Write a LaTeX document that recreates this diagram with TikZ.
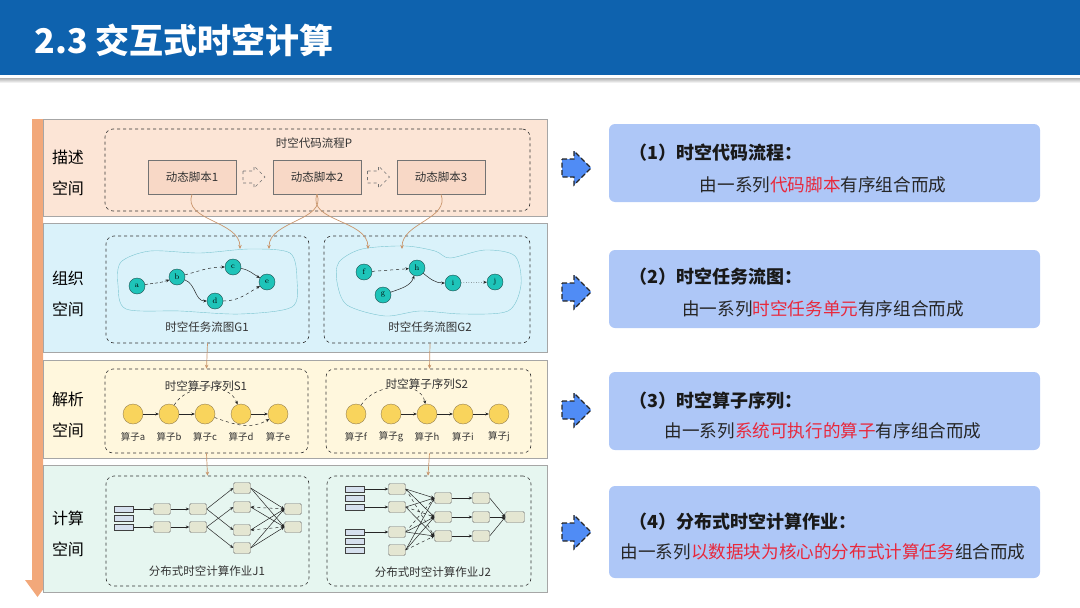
\documentclass[tikz,border=0pt]{standalone}
\usepackage{fontspec}
\newfontfamily\cjk{Noto Sans CJK SC}
\usetikzlibrary{arrows.meta}

\definecolor{bandblue}{RGB}{14,98,174}
\definecolor{descfill}{RGB}{252,229,214}
\definecolor{orgfill}{RGB}{218,242,250}
\definecolor{parsefill}{RGB}{255,247,221}
\definecolor{compfill}{RGB}{230,246,240}
\definecolor{barorange}{RGB}{242,168,122}
\definecolor{scriptfill}{RGB}{248,216,198}
\definecolor{tealnode}{RGB}{30,196,185}
\definecolor{tealline}{RGB}{30,80,80}
\definecolor{opyellow}{RGB}{249,212,92}
\definecolor{opline}{RGB}{150,128,80}
\definecolor{jobfill}{RGB}{228,230,210}
\definecolor{slabfill}{RGB}{214,224,238}
\definecolor{notefill}{RGB}{174,199,247}
\definecolor{arrowblue}{RGB}{80,140,245}
\definecolor{hlred}{RGB}{232,40,60}
\definecolor{linktan}{RGB}{201,149,107}
\definecolor{blobline}{RGB}{123,197,208}

\newcommand\hot[1]{\textcolor{hlred}{#1}}

\begin{document}
\begin{tikzpicture}[x=1pt, y=-1pt, font=\cjk,
    panel/.style={rectangle, draw=black!35, minimum width=504pt, inner sep=0},
    group/.style={rectangle, draw=black!80, dashed, line width=0.6pt, rounded corners=8pt, inner sep=0},
    side/.style={align=center, font=\cjk\fontsize{16}{31}\selectfont},
    small/.style={text=black!80, font=\cjk\fontsize{11.5}{13}\selectfont},
    script/.style={rectangle, draw=black!55, fill=scriptfill, minimum width=88pt, minimum height=34pt, small},
    hollow/.style={draw=black!55, dashed, line width=0.6pt},
    task/.style={circle, fill=tealnode, draw=tealline, minimum size=16pt, inner sep=0, font=\rmfamily\fontsize{8}{9}\selectfont},
    op/.style={circle, fill=opyellow, draw=opline, minimum size=20pt, inner sep=0},
    oplabel/.style={text=black!80, font=\cjk\fontsize{9.5}{11}\selectfont},
    job/.style={rectangle, rounded corners=1.5pt, draw=black!55, fill=jobfill, minimum width=17pt, minimum height=11pt, inner sep=0},
    slab/.style={rectangle, draw=black!75, fill=slabfill, minimum width=19pt, minimum height=6pt, inner sep=0},
    flow/.style={-{Stealth[length=3.5pt,width=3pt]}, black!85, line width=0.5pt},
    feed/.style={-{Stealth[length=4pt,width=3.5pt]}, linktan, line width=0.7pt},
    note/.style={rectangle, rounded corners=6pt, fill=notefill, minimum width=431pt, inner sep=0},
    pointer/.style={fill=arrowblue, draw=black!85, dash pattern=on 5pt off 2.5pt, line width=1.2pt},
    notetitle/.style={anchor=west, text=black!90, font=\cjk\bfseries\fontsize{18}{20}\selectfont},
    notebody/.style={text=black!85, font=\cjk\fontsize{17.6}{20}\selectfont}
]

    \useasboundingbox (0,0) rectangle (1080,608);

    % Header
    \fill[bandblue] (0,0) rectangle (1080,75);
    \shade[top color=black!30, bottom color=white] (0,78) rectangle (1080,83);
    \node[anchor=west, text=white, font=\cjk\bfseries\fontsize{34}{38}\selectfont] (title) at (31,40) {2.3 交互式时空计算};

    % Spaces
    \fill[barorange] (32,119) -- (43,119) -- (43,580) -- (50,580) -- (37.5,597) -- (25,580) -- (32,580) -- cycle;

    \node[panel, fill=descfill, minimum height=97pt] (P1) at (295,167.5) {};
    \node[panel, fill=orgfill, minimum height=129pt] (P2) at (295,287.5) {};
    \node[panel, fill=parsefill, minimum height=98pt] (P3) at (295,409) {};
    \node[panel, fill=compfill, minimum height=127pt] (P4) at (295,528.5) {};

    \foreach \n/\y/\t in {1/172.5/描述, 2/293.5/组织, 3/414.5/解析, 4/533.5/计算}
        \node[side] (L\n) at (68,\y) {\t\\空间};

    % Code flow P
    \node[group, minimum width=425pt, minimum height=82pt] (Pg) at (317.5,170) {};
    \node[small] (Pt) at (314,143) {时空代码流程P};

    \foreach \i/\x in {1/192, 2/317, 3/441}
        \node[script] (sc\i) at (\x,177) {动态脚本\i};

    \foreach \x in {243,367.5}
        \draw[hollow] (\x,171) -- ({\x+11},171) -- ({\x+11},166) -- ({\x+22},177) -- ({\x+11},188) -- ({\x+11},183) -- (\x,183) -- cycle;

    % Task flow graphs G1 G2
    \node[group, minimum width=203pt, minimum height=107pt] (G1) at (207.5,289.5) {};
    \node[group, minimum width=206pt, minimum height=107pt] (G2) at (427,289.5) {};
    \node[small] (G1t) at (207,327) {时空任务流图G1};
    \node[small] (G2t) at (430,327) {时空任务流图G2};

    \draw[blobline] plot[smooth cycle] coordinates {(121,262) (150,251) (200,253) (250,249) (290,253) (297,280) (292,307) (240,314) (180,311) (126,309) (118,285)};
    \draw[blobline] plot[smooth cycle] coordinates {(339,262) (362,249) (405,246) (435,251) (450,258) (485,250) (515,256) (521,285) (508,311) (462,314) (420,311) (385,316) (347,305) (337,282)};

    \foreach \n/\x/\y in {a/137/286, b/177/277, c/233/267, d/215/301, e/267/282, f/364/272, g/383/295, h/417/268, i/453/283, j/495/282}
        \node[task] (\n) at (\x,\y) {\n};

    \draw[flow, densely dashed] (a) to[out=10,in=200] (b);
    \draw[flow, dashed] (b) to[out=15,in=180] (c);
    \draw[flow] (b) to[out=-20,in=180] (d);
    \draw[flow] (c) to[out=-10,in=150] (e);
    \draw[flow, dashed] (d) to[out=0,in=-150] (e);
    \draw[flow, dashed] (f) -- (h);
    \draw[flow] (g) to[out=20,in=-110] (h);
    \draw[flow] (h) to[out=-40,in=180] (i);
    \draw[flow, dotted] (i) -- (j);

    \coordinate (g1in1) at (240,249);
    \coordinate (g1in2) at (269,249);
    \coordinate (g2in1) at (368,249);
    \coordinate (g2in2) at (402,249);

    \draw[feed] (sc1.south) to[out=-110,in=90] (g1in1);
    \draw[feed] (sc2.south) to[out=-70,in=90] (g1in2);
    \draw[feed] (sc2.south) to[out=-110,in=90] (g2in1);
    \draw[feed] (sc3.south) to[out=-70,in=90] (g2in2);

    % Operator sequences S1 S2
    \node[group, minimum width=203pt, minimum height=84pt] (S1) at (206.5,411) {};
    \node[group, minimum width=205pt, minimum height=84pt] (S2) at (428.5,411) {};
    \node[small] (S1t) at (206,386) {时空算子序列S1};
    \node[small] (S2t) at (427,384) {时空算子序列S2};

    \foreach \n/\x in {a/133, b/169, c/205, d/241, e/278, f/356, g/391, h/427, i/463, j/499} {
        \node[op] (s\n) at (\x,414) {};
        \node[oplabel] (l\n) at (\x,437) {算子\n};
    }

    \draw[flow] (sa) -- (sb);
    \draw[flow] (sb) -- (sc);
    \draw[flow] (sd) -- (se);
    \draw[flow, dashed] (sb) to[out=60,in=110] (sd);
    \draw[flow, dashed] (sc) to[out=-20,in=-150] (se);
    \draw[flow, dashed] (sf) to[out=60,in=100] (sh);
    \draw[flow] (sg) -- (sh);
    \draw[flow] (sh) -- (si);
    \draw[flow] (si) -- (sj);

    \draw[feed] (G1.south) -- (S1.north);
    \draw[feed] ([xshift=3pt]G2.south) -- ([xshift=1pt]S2.north);

    % Computing jobs J1 J2
    \node[group, minimum width=203pt, minimum height=110pt] (J1) at (207.5,531) {};
    \node[group, minimum width=204pt, minimum height=110pt] (J2) at (429,531) {};
    \node[small] (J1t) at (207,571) {分布式时空计算作业J1};
    \node[small] (J2t) at (433,572) {分布式时空计算作业J2};

    \draw[feed] (S1.south) -- (J1.north);
    \draw[feed] ([xshift=1pt]S2.south) -- ([xshift=-1pt]J2.north);

    \foreach \i/\y in {1/509, 2/518, 3/527}
        \node[slab] (j1s\i) at (124,\y) {};
    \foreach \i/\y in {1/509, 2/527} {
        \node[job] (j1a\i) at (162,\y) {};
        \node[job] (j1b\i) at (198,\y) {};
        \node[job] (j1d\i) at (293,\y) {};
    }
    \foreach \i/\y in {1/488, 2/507, 3/530, 4/548}
        \node[job] (j1c\i) at (242,\y) {};

    \draw[flow] (j1s1) -- (j1a1);
    \draw[flow] (j1s3) -- (j1a2);
    \foreach \i in {1,2}
        \draw[flow] (j1a\i) -- (j1b\i);
    \foreach \b/\c in {1/1, 1/3, 2/2, 2/4}
        \draw[flow] (j1b\b.east) -- (j1c\c.west);
    \foreach \c/\d in {1/1, 1/2, 2/2, 3/1, 4/1, 4/2}
        \draw[flow] (j1c\c.east) -- (j1d\d.west);
    \draw[flow, dashed] (j1d1.west) -- (j1c2.east);
    \draw[flow, dashed] (j1d2.west) -- (j1c3.east);

    \foreach \i/\y in {1/489, 2/498, 3/507, 4/532, 5/541, 6/550}
        \node[slab] (j2s\i) at (355,\y) {};
    \foreach \i/\y in {1/489, 2/507, 3/532, 4/550}
        \node[job] (j2a\i) at (397,\y) {};
    \foreach \i/\y in {1/498, 2/517, 3/536} {
        \node[job] (j2b\i) at (443,\y) {};
        \node[job] (j2c\i) at (481,\y) {};
    }
    \node[job, minimum width=19pt] (j2d) at (515,517) {};

    \draw[flow] (j2s1) -- (j2a1);
    \draw[flow] (j2s3) -- (j2a2);
    \draw[flow] (j2s4) -- (j2a3);
    \foreach \a/\b/\s in {1/1/solid, 1/2/solid, 1/3/dashed, 2/1/solid, 2/2/dashed, 2/3/solid, 3/1/dashed, 3/2/solid, 3/3/solid, 4/1/solid, 4/2/solid, 4/3/dashed}
        \draw[flow, \s] (j2a\a.east) -- (j2b\b.west);
    \foreach \b in {1,2,3} {
        \draw[flow] (j2b\b) -- (j2c\b);
        \draw[flow] (j2c\b.east) -- (j2d.west);
    }

    % Notes
    \foreach \n/\y/\h in {1/163/78, 2/289/78, 3/411/78, 4/532/92}
        \node[note, minimum height=\h pt] (N\n) at (824.5,\y) {};

    \foreach \y in {168,292,410,532}
        \draw[pointer] (562,{\y-9}) -- (574,{\y-9}) -- (574,{\y-17}) -- (591,\y) -- (574,{\y+17}) -- (574,{\y+9}) -- (562,{\y+9}) -- cycle;

    \node[notetitle] (T1) at (626,153) {（1）时空代码流程：};
    \node[notebody] (B1) at (823,185) {由一系列\hot{代码脚本}有序组合而成};
    \node[notetitle] (T2) at (626,277) {（2）时空任务流图：};
    \node[notebody] (B2) at (823,309) {由一系列\hot{时空任务单元}有序组合而成};
    \node[notetitle] (T3) at (626,401) {（3）时空算子序列：};
    \node[notebody] (B3) at (823,431) {由一系列\hot{系统可执行的算子}有序组合而成};
    \node[notetitle] (T4) at (626,522) {（4）分布式时空计算作业：};
    \node[notebody] (B4) at (823,552) {由一系列\hot{以数据块为核心的分布式计算任务}组合而成};

\end{tikzpicture}
\end{document}
